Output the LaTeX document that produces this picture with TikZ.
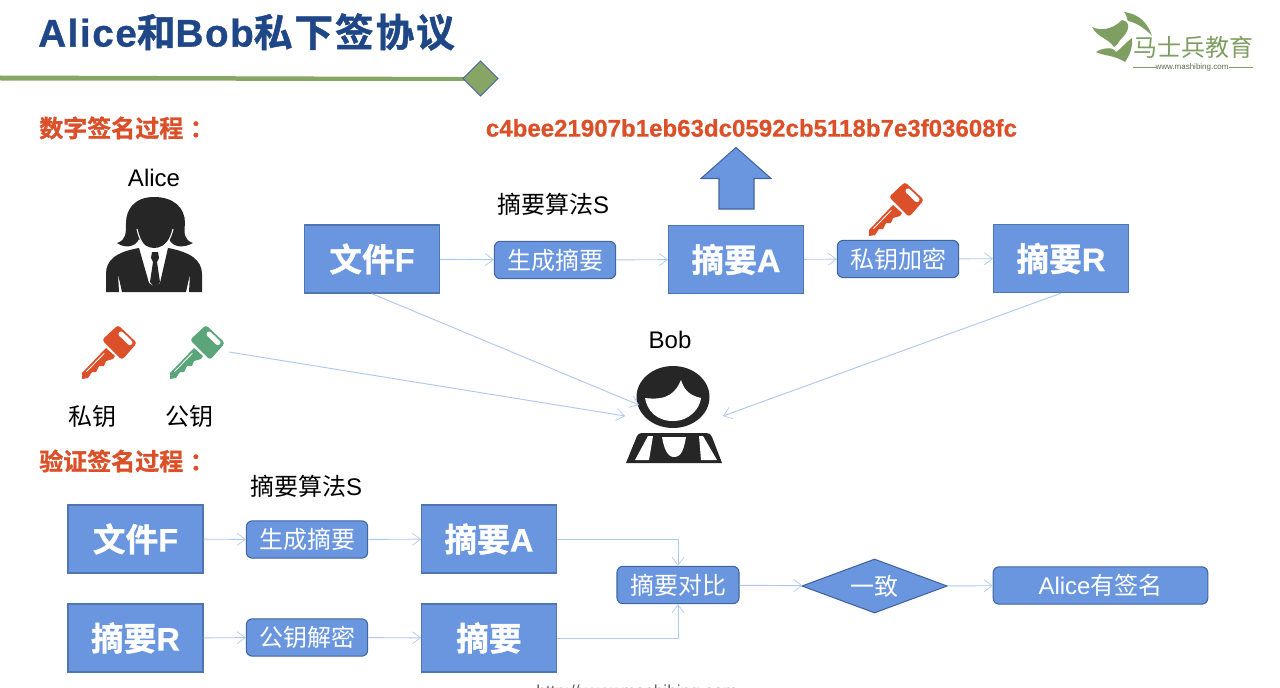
\documentclass[tikz,border=0pt]{standalone}
\usepackage{fontspec}
\setmainfont{Liberation Sans}
\newfontfamily\cjk{Noto Sans CJK SC}
\newfontfamily\cjkb[FakeBold=1.2]{Noto Sans CJK SC Bold}
\newfontfamily\latb[FakeBold=0.6]{Liberation Sans Bold}
\newfontfamily\titlelat[LetterSpace=4,FakeBold=0.8]{Liberation Sans Bold}
\newfontfamily\titlecjk[LetterSpace=5,FakeBold=1.2]{Noto Sans CJK SC Bold}
\newcommand{\zh}[1]{{\cjk #1}}
\newcommand{\zb}[1]{{\cjkb #1}}
\usetikzlibrary{shapes.geometric,arrows.meta}
\definecolor{boxfill}{HTML}{6A96E0}
\definecolor{boxedge}{HTML}{41659E}
\definecolor{boxedgeb}{HTML}{4F76B0}
\definecolor{conn}{HTML}{AFC8F0}
\definecolor{titleblue}{HTML}{1F4788}
\definecolor{redt}{HTML}{DC5029}
\definecolor{greenk}{HTML}{5AA57A}
\definecolor{olive}{HTML}{87A564}
\definecolor{logo}{HTML}{7F9F62}
\definecolor{ink}{HTML}{262626}
\tikzset{
 x=0.75pt,y=-0.75pt,
 bigbox/.style={draw=boxedgeb,line width=1.1pt,fill=boxfill,minimum width=101pt,minimum height=51pt,inner sep=0pt,text=white,font=\latb\fontsize{24.5}{25}\selectfont},
 step box/.style={draw=boxedge,line width=.8pt,fill=boxfill,rounded corners=4.5pt,minimum height=28pt,inner sep=0pt,text=white,font=\fontsize{18}{20}\selectfont},
 lnk/.style={draw=conn,line width=.7pt,-{Straight Barb[length=6pt,width=9pt,line width=.5pt]}},
 lab/.style={text=black,inner sep=0pt,font=\fontsize{18}{20}\selectfont},
 head/.style={text=redt,inner sep=0pt,font=\cjkb\fontsize{18}{20}\selectfont},
}
\newcommand{\keyshape}[3]{%
 \begin{scope}[shift={(#1,#2)}]
  \fill[#3] (-3,-3) -- (-27,22) -- (-27,28) -- (-21,27) -- (-17,21) -- (-13,21) -- (-10,15) -- (-5,15) -- (-3,10) -- (4,8) -- (6,5) -- cycle;
  \fill[#3,rounded corners=2.2] (9,-26) -- (28,-8) -- (13,9) -- (-7,-11) -- cycle;
  \fill[white,rounded corners=1.8] (12.1,-20.5) -- (24.5,-8.5) -- (20.9,-4.9) -- (8.5,-16.9) -- cycle;
  \fill[white] (-23,20.5) -- (-5,2) -- (-4.4,2.6) -- (-22.4,21.1) -- cycle;
 \end{scope}}
\begin{document}
\begin{tikzpicture}
\useasboundingbox (0,0) rectangle (1280,688);
\fill[white] (0,0) rectangle (1280,688);
% title
\node[anchor=west,inner sep=0pt,text=titleblue,font=\fontsize{29}{32}\selectfont] (title) at (38,32) {{\titlelat Alice}{\titlecjk 和}{\titlelat Bob}{\titlecjk 私下签协议}};
\fill[olive] (0,75.5) -- (470,77) -- (470,81) -- (0,80.5) -- cycle;
\node[diamond,draw=boxedge,line width=.7pt,fill=olive,minimum width=26.5pt,minimum height=26.5pt,inner sep=0pt] (dia) at (480.5,78.5) {};
% logo
\begin{scope}[logo]
 \fill (1124,12) .. controls (1140,14) and (1148,24) .. (1152,36) .. controls (1144,27) and (1134,22) .. (1128,21) .. controls (1126,17) and (1127,15) .. (1124,12) -- cycle;
 \fill (1092,27) .. controls (1100,31) and (1112,30) .. (1122,20) .. controls (1132,22) and (1129,32) .. (1120,40) .. controls (1118,44) and (1116,46) .. (1114,47) .. controls (1108,38) and (1098,38) .. (1092,27) -- cycle;
 \fill (1096,52) .. controls (1104,47) and (1114,47) .. (1116,52) .. controls (1122,48) and (1126,42) .. (1132,38) .. controls (1133,46) and (1130,55) .. (1125,62) .. controls (1114,55) and (1104,56) .. (1096,52) -- cycle;
 \node[inner sep=0pt,font=\cjk\fontsize{18}{20}\selectfont,text=logo] (logotext) at (1193,47) {马士兵教育};
 \node[inner sep=0pt,font=\fontsize{6}{7}\selectfont,text=logo!70!black] (logourl) at (1192,67) {www.mashibing.com};
 \draw[line width=.5pt] (1133,67.5) -- (1156,67.5) (1229,67.5) -- (1253,67.5);
\end{scope}
% headings
\node[head,anchor=west] (h1) at (39,128) {数字签名过程\kern5pt：};
\node[head,anchor=west] (h2) at (39,461) {验证签名过程\kern5pt：};
\node[anchor=center,inner sep=0pt,text=redt,font=\latb\fontsize{18.05}{20}\selectfont] (hash) at (751.5,128) {c4bee21907b1eb63dc0592cb5118b7e3f03608fc};
% Alice
\node[lab] (alice) at (154,178) {Alice};
\begin{scope}[ink]
 \fill (154,197) .. controls (134,197) and (126,210) .. (126,223) .. controls (126,234) and (126,240) .. (117,243) .. controls (124,248) and (135,248) .. (139,239) .. controls (143,245) and (149,248) .. (154,248) .. controls (160,248) and (165,245) .. (169,239) .. controls (173,248) and (184,248) .. (193,243) .. controls (184,240) and (184,234) .. (185,223) .. controls (185,208) and (174,197) .. (154,197) -- cycle;
 \fill (139,248) .. controls (116,252) and (106,260) .. (106,274) -- (106,292) -- (119,292) -- (118,274) -- (122,292) -- (186,292) -- (190,274) -- (189,292) -- (202,292) -- (202,274) .. controls (202,260) and (190,252) .. (168,248) -- (160,283) -- (155,287) -- (149,283) -- cycle;
 \fill (152,252) -- (158,252) -- (159,258) -- (157,262) -- (160,282) -- (155,288) -- (150,282) -- (153,262) -- (151,258) -- cycle;
\end{scope}
\draw[white,line width=.8pt] (137,229) .. controls (139,238) and (142,244) .. (147,248.5);
\draw[white,line width=.8pt] (173,229) .. controls (171,238) and (167,244) .. (162,248.5);
% keys
\keyshape{109}{351}{redt}
\keyshape{197}{351}{greenk}
\keyshape{896}{208}{redt}
\node[lab] (privlab) at (92,416) {\zh{私钥}};
\node[lab] (publab) at (189,416) {\zh{公钥}};
\coordinate (pubkey) at (229,352);
% Bob
\node[lab] (bob) at (670,340) {Bob};
\begin{scope}
 \fill[ink] (673,397) ellipse[x radius=36.5,y radius=31];
 \fill[white] (645,398) .. controls (668,401) and (676,392) .. (681,380) .. controls (684,389) and (688,395) .. (701,398) .. controls (700,408) and (690,421) .. (673,421) .. controls (656,421) and (647,410) .. (645,398) -- cycle;
 \fill[ink] (642,433) -- (706,433) .. controls (709,433) and (711,434) .. (712,437) -- (722,463) -- (626,463) -- (637,436) .. controls (638,434) and (640,433) .. (642,433) -- cycle;
 \fill[white] (648,436) -- (653,436) -- (649,460) -- (635,460) -- cycle;
 \fill[white] (699,436) -- (703,436) -- (717,460) -- (701,460) -- cycle;
 \fill[white] (662,437) -- (686,437) .. controls (684,448) and (682,457) .. (674,457) .. controls (667,457) and (664,448) .. (662,437) -- cycle;
\end{scope}
\coordinate (bobl1) at (639,405);
\coordinate (bobl2) at (625,416);
\coordinate (bobr) at (723,416);
% up arrow
\fill[boxfill,draw=boxedge,line width=.8pt] (736,147.5) -- (771,178.5) -- (754,178.5) -- (754,209) -- (719,209) -- (719,178.5) -- (701,178.5) -- cycle;
% upper row
\node[bigbox] (f1) at (372,259) {\zb{文件}F};
\node[bigbox] (a1) at (736,259.5) {\zb{摘要}A};
\node[bigbox] (r1) at (1061,258.5) {\zb{摘要}R};
\node[lab] (s1) at (553,204) {\zh{摘要算法}S};
\node[step box,minimum width=91pt] (gen1) at (555,260) {\zh{生成摘要}};
\node[step box,minimum width=91pt] (enc1) at (898,259) {\zh{私钥加密}};
\draw[lnk] (f1) -- (gen1);
\draw[lnk] (gen1) -- (a1);
\draw[lnk] (a1) -- (enc1);
\draw[lnk] (enc1) -- (r1);
\draw[lnk] (f1.south) -- (bobl1);
\draw[lnk] (pubkey) -- (bobl2);
\draw[lnk] (r1.south) -- (bobr);
% lower row
\node[lab] (s2) at (306,486) {\zh{摘要算法}S};
\node[bigbox] (f2) at (135.5,539) {\zb{文件}F};
\node[bigbox] (a2) at (489,539) {\zb{摘要}A};
\node[bigbox] (r2) at (135.5,638) {\zb{摘要}R};
\node[bigbox] (d2) at (489,638) {\zb{摘要}};
\node[step box,minimum width=91pt] (gen2) at (307,539.5) {\zh{生成摘要}};
\node[step box,minimum width=91pt] (dec2) at (307,637.5) {\zh{公钥解密}};
\node[step box,minimum width=91.5pt] (cmp) at (678,585) {\zh{摘要对比}};
\node[diamond,draw=boxedge,line width=.8pt,fill=boxfill,minimum width=109pt,minimum height=40.5pt,inner sep=0pt,aspect=2.7,text=white,font=\fontsize{18}{20}\selectfont] (same) at (874.5,586) {\zh{一致}};
\node[step box,minimum width=161pt] (res) at (1100.5,585.5) {Alice\zh{有签名}};
\draw[lnk] (f2) -- (gen2);
\draw[lnk] (gen2) -- (a2);
\draw[lnk] (r2) -- (dec2);
\draw[lnk] (dec2) -- (d2);
\draw[lnk] (a2.east) -| (cmp.north);
\draw[lnk] (d2.east) -| (cmp.south);
\draw[lnk] (cmp) -- (same);
\draw[lnk] (same) -- (res);
% footer, cut by the lower edge as in the reference
\node[inner sep=0pt,anchor=base west,text=black!60,font=\fontsize{13}{15}\selectfont] (foot) at (536,697.5) {http://www.mashibing.com};
\end{tikzpicture}
\end{document}
